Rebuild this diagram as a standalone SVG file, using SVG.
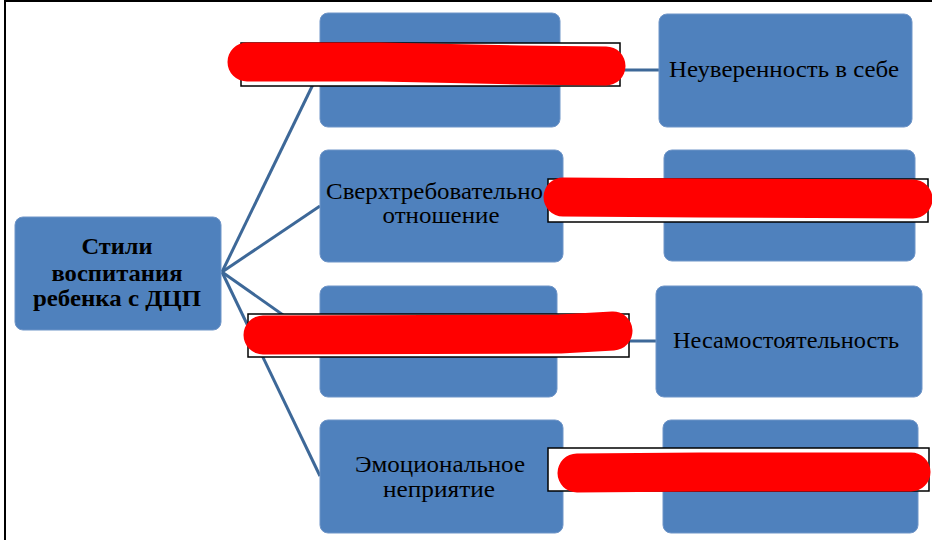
<svg xmlns="http://www.w3.org/2000/svg" width="932" height="540" viewBox="0 0 932 540">
<style>
.node{fill:#4f81bd;stroke:#6f95c8;stroke-width:1}
.t{font-family:"Liberation Serif","Times New Roman",serif;font-size:23px;fill:#000;text-anchor:middle}
.b{font-weight:bold;font-size:24px}
.con{stroke:#3d6898;stroke-width:3;fill:none}
.box{fill:#fff;stroke:#000;stroke-width:1.5}
.red{stroke:#ff0000;stroke-width:39;stroke-linecap:round;stroke-linejoin:round;fill:none}
</style>
<rect x="0" y="0" width="932" height="540" fill="#fff"/>
<path d="M5,540 V1 H932" stroke="#000" stroke-width="2" fill="none"/>
<g id="connectors">
<line class="con" x1="222" y1="272" x2="320" y2="70"/>
<line class="con" x1="222" y1="272" x2="320" y2="206"/>
<line class="con" x1="222" y1="272" x2="320" y2="341"/>
<line class="con" x1="222" y1="272" x2="320" y2="476"/>
<line class="con" x1="560" y1="70" x2="659" y2="70"/>
<line class="con" x1="563" y1="206" x2="664" y2="206"/>
<line class="con" x1="557" y1="341" x2="656" y2="341"/>
<line class="con" x1="563" y1="476" x2="663" y2="476"/>
</g>
<g id="root">
<rect class="node" x="15" y="217" width="206" height="113" rx="8"/>
<text class="t b" x="117" y="254" textLength="71" lengthAdjust="spacingAndGlyphs">Стили</text>
<text class="t b" x="117" y="281" textLength="131" lengthAdjust="spacingAndGlyphs">воспитания</text>
<text class="t b" x="117" y="306" textLength="168" lengthAdjust="spacingAndGlyphs">ребенка с ДЦП</text>
</g>
<g id="n1">
<rect class="node" x="320" y="13" width="240" height="114" rx="8"/>
</g>
<g id="n2">
<rect class="node" x="320" y="150" width="243" height="112" rx="8"/>
<text class="t" x="326" y="199" style="text-anchor:start" textLength="217" lengthAdjust="spacingAndGlyphs">Сверхтребовательно</text>
<text class="t" x="441" y="223" textLength="117" lengthAdjust="spacingAndGlyphs">отношение</text>
</g>
<g id="n3">
<rect class="node" x="320" y="286" width="237" height="111" rx="8"/>
</g>
<g id="n4">
<rect class="node" x="320" y="420" width="243" height="113" rx="8"/>
<text class="t" x="440" y="472" textLength="170" lengthAdjust="spacingAndGlyphs">Эмоциональное</text>
<text class="t" x="439" y="497" textLength="112" lengthAdjust="spacingAndGlyphs">неприятие</text>
</g>
<g id="r1">
<rect class="node" x="659" y="14" width="253" height="113" rx="8"/>
<text class="t" x="784" y="77" textLength="230" lengthAdjust="spacingAndGlyphs">Неуверенность в себе</text>
</g>
<g id="r2">
<rect class="node" x="664" y="150" width="251" height="111" rx="8"/>
</g>
<g id="r3">
<rect class="node" x="656" y="286" width="266" height="111" rx="8"/>
<text class="t" x="786" y="348" textLength="226" lengthAdjust="spacingAndGlyphs">Несамостоятельность</text>
</g>
<g id="r4">
<rect class="node" x="663" y="420" width="255" height="113" rx="8"/>
</g>
<g id="redactions">
<rect class="box" x="241" y="43" width="379" height="43"/>
<path class="red" d="M247,62 L380,62 L520,65 L606,66"/>
<rect class="box" x="548" y="179" width="380" height="43"/>
<path class="red" d="M563,197 L700,198 L913,199"/>
<rect class="box" x="248" y="314" width="381" height="43"/>
<path class="red" d="M263,335 L560,334 L613,331"/>
<rect class="box" x="548" y="448" width="381" height="43"/>
<path class="red" d="M577,473 L700,472 L911,472"/>
</g>
</svg>
